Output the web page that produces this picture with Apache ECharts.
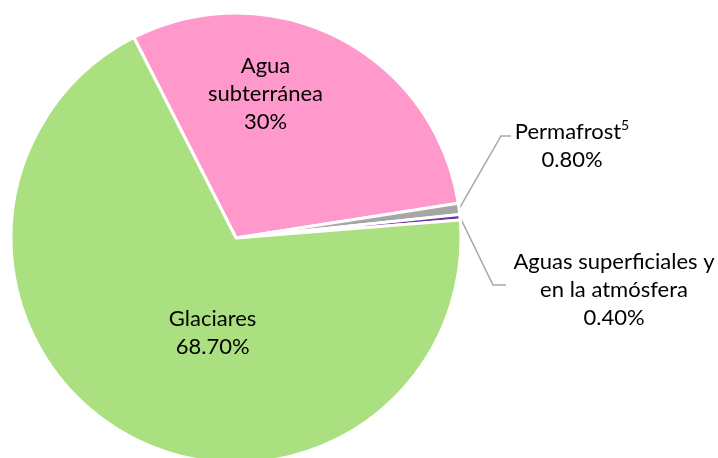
<!DOCTYPE html>
<html>
<head>
<meta charset="utf-8">
<script src="https://cdn.jsdelivr.net/npm/echarts@6/dist/echarts.min.js"></script>
<style>
  html, body { margin: 0; padding: 0; background: #fff; }
  #main { width: 718px; height: 458px; }
</style>
</head>
<body>
<div id="main"></div>
<script>
  // 数据
  let names = ['Agua subterránea', 'Permafrost⁵', 'Aguas superficiales y en la atmósfera', 'Glaciares'];
  let labelNames = ['Agua\nsubterránea', 'Permafrost{sup|5}', 'Aguas superficiales y\nen la atmósfera', 'Glaciares'];
  let values = [30, 0.8, 0.4, 68.7];
  let valueLabels = ['30%', '0.80%', '0.40%', '68.70%'];
  let colors = ['#FF99CC', '#A6A6A6', '#7030A0', '#AAE080'];

  let fontFamily = 'Lato, "Noto Sans", sans-serif';
  let outside = [false, true, true, false];

  let seriesData = names.map(function (n, i) {
    let item = {
      name: n,
      value: values[i],
      itemStyle: { color: colors[i] }
    };
    if (outside[i]) {
      item.label = { position: 'outside' };
      item.labelLine = { show: true };
    }
    return item;
  });

  let myChart = echarts.init(document.getElementById('main'));
  let option = {
    backgroundColor: '#fff',
    animation: false,
    series: [{
      type: 'pie',
      center: [236, 238],
      radius: [0, 225],
      startAngle: 117,
      clockwise: true,
      avoidLabelOverlap: false,
      itemStyle: {
        borderColor: '#fff',
        borderWidth: 3
      },
      label: {
        show: true,
        position: 'inside',
        color: '#000',
        fontFamily: fontFamily,
        fontSize: 22,
        lineHeight: 28,
        align: 'center',
        rich: {
          sup: {
            color: '#000',
            fontFamily: fontFamily,
            fontSize: 14,
            lineHeight: 20,
            verticalAlign: 'top'
          }
        },
        formatter: function (p) {
          return labelNames[p.dataIndex] + '\n' + valueLabels[p.dataIndex];
        }
      },
      labelLine: {
        show: false,
        lineStyle: { color: '#A6A6A6', width: 1.5 }
      },
      emphasis: { disabled: true },
      labelLayout: function (params) {
        let i = params.dataIndex;
        if (i === 0) {
          return { dx: -23, dy: -41 };
        }
        if (i === 3) {
          return { dx: 33, dy: -6 };
        }
        let start = params.labelLinePoints ? params.labelLinePoints[0] : [460, 210];
        if (i === 1) {
          return {
            x: 572, y: 146, align: 'center', verticalAlign: 'middle',
            labelLinePoints: [start, [501, 136], [511, 136]]
          };
        }
        return {
          x: 614, y: 290, align: 'center', verticalAlign: 'middle',
          labelLinePoints: [start, [493, 285], [506, 285]]
        };
      },
      data: seriesData
    }]
  };
  myChart.setOption(option);
</script>
</body>
</html>
